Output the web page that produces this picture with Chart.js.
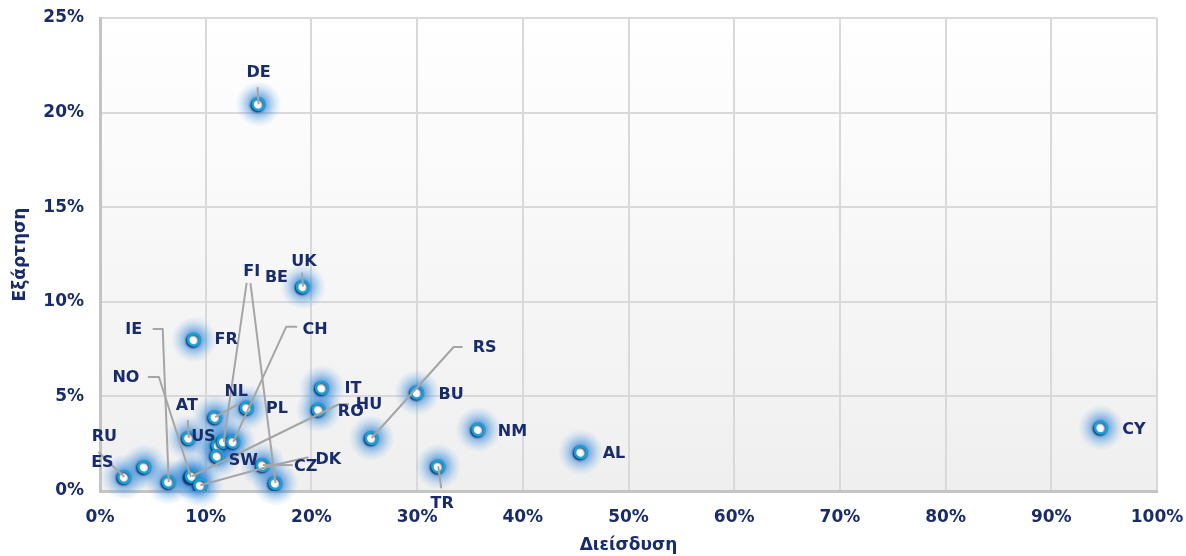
<!DOCTYPE html>
<html><head><meta charset="utf-8">
<script src="https://cdn.jsdelivr.net/npm/chart.js@4.4.1/dist/chart.umd.min.js"></script>
<style>html,body{margin:0;padding:0;background:#fff}#wrap{width:1186px;height:556px}</style>
</head><body><div id="wrap"><canvas id="c" width="1186" height="556"></canvas></div>
<script>
// ---- data ----
const countries   = ['DE','UK','FR','IT','RO','BU','RS','NM','TR','AL','CY','PL','NL','AT','US','FI','CH','SW','NO','HU','DK','IE','CZ','BE','RU','ES'];
const penetration = [15.0,19.2,8.9,21.0,20.7,30.0,25.7,35.8,32.0,45.5,94.7,13.9,10.9,8.4,11.2,11.7,12.6,11.1,8.6,8.7,9.5,6.5,15.4,16.6,2.3,4.2];
const dependence  = [20.45,10.8,8.0,5.45,4.3,5.2,2.8,3.25,1.3,2.05,3.35,4.4,3.9,2.8,2.4,2.6,2.6,1.85,0.74,0.78,0.3,0.48,1.37,0.42,0.74,1.27];
const xTicks = [0,10,20,30,40,50,60,70,80,90,100];
const yTicks = [0,5,10,15,20,25];
const xTitle = 'Διείσδυση';
const yTitle = 'Εξάρτηση';

// ---- label placement (pixel offsets from each point; style only) ----
const labelStyle = {
  DE:{d:[0,-31], l:[[-1,-17]]},
  UK:{d:[1,-25], l:[[-1,-14]]},
  FR:{d:[32,0]}, IT:{d:[31,1]}, RO:{d:[32,2]}, BU:{d:[34,2]},
  RS:{d:[113,-90], l:[[91,-91],[82,-91]]},
  NM:{d:[34,2]},
  TR:{d:[4,37], l:[[3,22]]},
  AL:{d:[33,2]}, CY:{d:[33,2]}, PL:{d:[30,1]},
  NL:{d:[21,-25], l:[[23,-13]]},
  AT:{d:[-2,-32], l:[[-1,-18]]},
  US:{d:[-15,-9]},
  FI:{d:[28,-170], l:[[23,-159]]},
  CH:{d:[82,-112], l:[[64,-115],[53,-115]]},
  SW:{d:[26,5]},
  NO:{d:[-65,-99], l:[[-43,-100],[-32,-100]]},
  HU:{d:[177,-71], l:[[157,-72],[147,-72]]},
  DK:{d:[128,-25], l:[[108,-28],[73,-20]]},
  IE:{d:[-35,-152], l:[[-16,-153],[-6,-153]]},
  CZ:{d:[43,2], l:[[30,0]]},
  BE:{d:[1,-205], l:[[-25,-200]]},
  RU:{d:[-20,-40], l:[[-26,-25]]},
  ES:{d:[-42,-4]}
};

const NAVY = '#182b6b';
const FONT = '"DejaVu Sans", Verdana, sans-serif';

const bgPlugin = {
  id:'bg',
  beforeDraw(chart){
    const {ctx, chartArea:a} = chart;
    const g = ctx.createLinearGradient(0,a.top,0,a.bottom);
    g.addColorStop(0,'#ffffff'); g.addColorStop(1,'#efefef');
    ctx.save(); ctx.fillStyle = g; ctx.fillRect(a.left,a.top,a.right-a.left,a.bottom-a.top); ctx.restore();
  }
};
const glowPlugin = {
  id:'glow',
  beforeDatasetsDraw(chart){
    const ctx = chart.ctx;
    const meta = chart.getDatasetMeta(0);
    ctx.save();
    meta.data.forEach(p=>{
      const r = 23;
      const g = ctx.createRadialGradient(p.x,p.y,0,p.x,p.y,r);
      g.addColorStop(0,'rgba(20,105,200,0.85)');
      g.addColorStop(0.4,'rgba(45,130,215,0.55)');
      g.addColorStop(0.75,'rgba(80,155,225,0.2)');
      g.addColorStop(1,'rgba(100,165,230,0)');
      ctx.fillStyle = g;
      ctx.beginPath(); ctx.arc(p.x,p.y,r,0,Math.PI*2); ctx.fill();
    });
    ctx.restore();
  },
  beforeDatasetDraw(chart){
    const ctx = chart.ctx;
    ctx.save();
    ctx.shadowColor = 'rgba(0,30,80,0.85)';
    ctx.shadowBlur = 2; ctx.shadowOffsetX = -1; ctx.shadowOffsetY = 1;
  },
  afterDatasetDraw(chart){ chart.ctx.restore(); }
};
const labelPlugin = {
  id:'labels',
  afterDatasetsDraw(chart){
    const ctx = chart.ctx;
    const meta = chart.getDatasetMeta(0);
    ctx.save();
    ctx.strokeStyle = '#a5a5a5'; ctx.lineWidth = 2; ctx.lineJoin='round';
    meta.data.forEach((p,i)=>{
      const s = labelStyle[countries[i]];
      if(s && s.l){
        ctx.beginPath();
        ctx.moveTo(p.x+s.l[0][0], p.y+s.l[0][1]);
        for(let k=1;k<s.l.length;k++) ctx.lineTo(p.x+s.l[k][0], p.y+s.l[k][1]);
        ctx.lineTo(p.x,p.y);
        ctx.stroke();
      }
    });
    ctx.font = 'bold 16px '+FONT;
    ctx.fillStyle = NAVY; ctx.textAlign='center'; ctx.textBaseline='middle';
    meta.data.forEach((p,i)=>{
      const s = labelStyle[countries[i]] || {d:[30,0]};
      ctx.fillText(countries[i], p.x+s.d[0], p.y+s.d[1]);
    });
    ctx.restore();
  }
};

new Chart(document.getElementById('c'), {
  type:'scatter',
  data:{ datasets:[{
    data: penetration.map((x,i)=>({x:x, y:dependence[i]})),
    pointRadius:6, pointHoverRadius:6,
    pointBackgroundColor:'#ffffff', pointBorderColor:'#15a2d8', pointBorderWidth:2.5
  }]},
  options:{
    responsive:false, animation:false, events:[],
    layout:{padding:{left:0,right:29,top:18,bottom:0}},
    plugins:{legend:{display:false}, tooltip:{enabled:false}},
    scales:{
      x:{
        type:'linear', min:0, max:100,
        afterBuildTicks(s){ s.ticks = xTicks.map(v=>({value:v})); },
        afterFit(s){ s.height = 65; s.paddingLeft = 0; s.paddingRight = 0; },
        grid:{color:'#d9d9d9', lineWidth:2, drawTicks:false},
        border:{color:'#c4c4c4', width:3},
        ticks:{padding:16, color:NAVY, font:{family:FONT, size:17, weight:'bold'}, callback:v=>v+'%', maxRotation:0},
        title:{display:true, text:xTitle, color:NAVY, font:{family:FONT, size:17, weight:'bold'}, padding:{top:0,bottom:0}}
      },
      y:{
        type:'linear', min:0, max:25,
        afterBuildTicks(s){ s.ticks = yTicks.map(v=>({value:v})); },
        afterFit(s){ s.width = 100; s.paddingTop = 0; s.paddingBottom = 0; },
        grid:{color:'#d9d9d9', lineWidth:2, drawTicks:false},
        border:{color:'#c4c4c4', width:3},
        ticks:{padding:16, color:NAVY, font:{family:FONT, size:17, weight:'bold'}, callback:v=>v+'%'},
        title:{display:true, text:yTitle, color:NAVY, font:{family:FONT, size:17, weight:'bold'}, padding:{top:10,bottom:0}}
      }
    }
  },
  plugins:[bgPlugin, glowPlugin, labelPlugin]
});
</script></body></html>
